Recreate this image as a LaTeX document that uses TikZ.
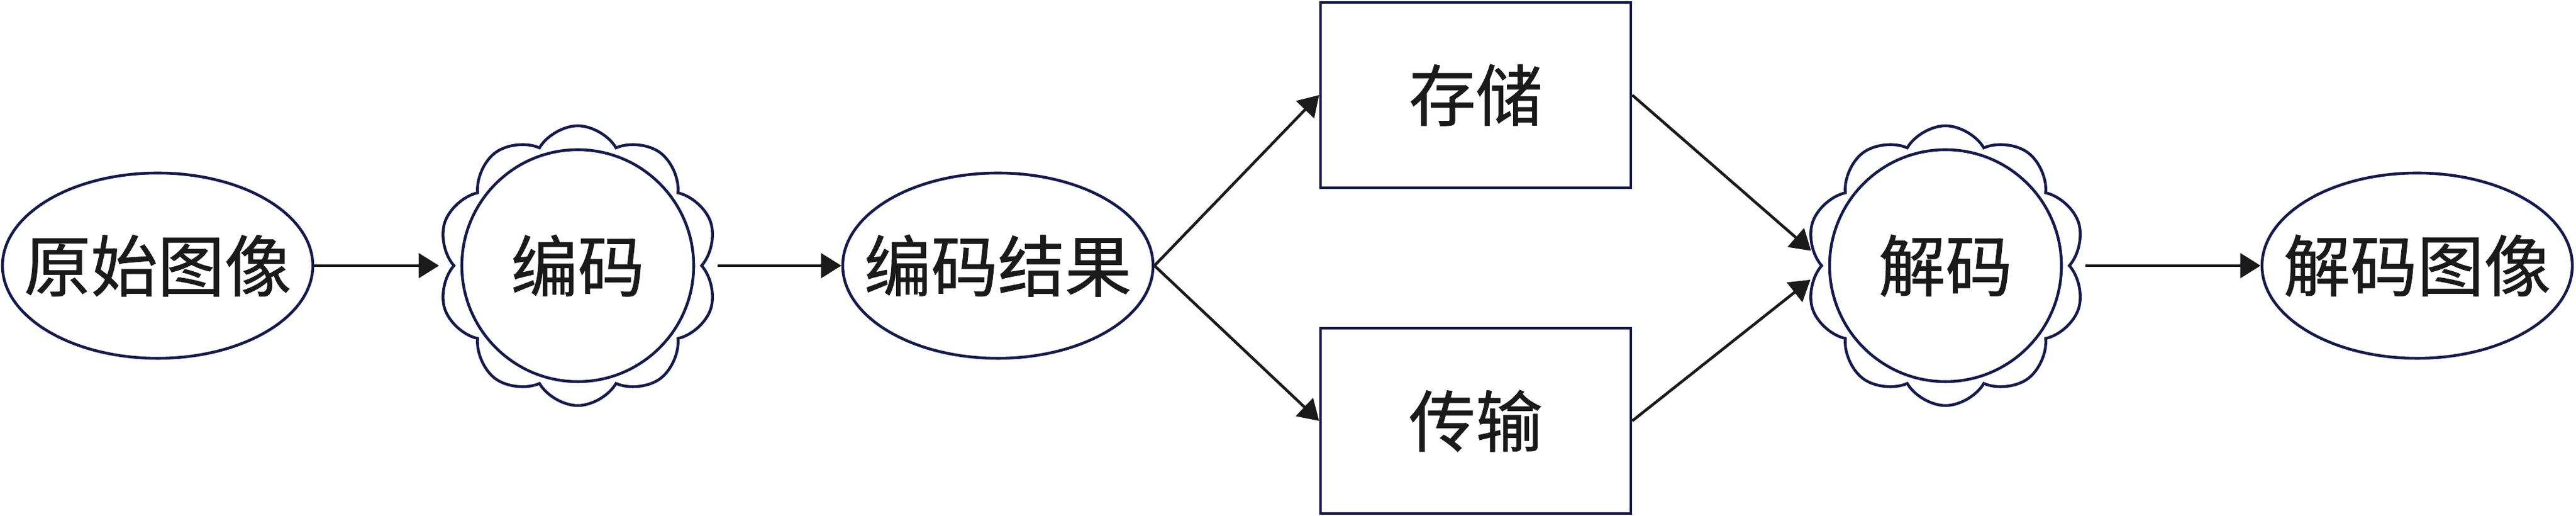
\documentclass[tikz,border=0pt]{standalone}
\usepackage{fontspec}
\setmainfont{Noto Sans CJK SC}[FakeBold=0.8]
\usetikzlibrary{shapes.geometric,shapes.symbols,arrows.meta}

\definecolor{navy}{HTML}{141A4B}
\definecolor{ink}{HTML}{1A1A1A}

\begin{document}
\begin{tikzpicture}[
 line width=1.3pt,
 font=\fontsize{31pt}{31pt}\selectfont,
    E/.style = {ellipse, draw=navy, text=ink,% image nodes
                minimum width=5.06cm, minimum height=3.02cm,
                inner xsep=-0.6cm, inner ysep=0pt},
    C/.style = {cloud, draw=navy,% puffs round the coder nodes
                cloud puffs=10, cloud puff arc=120, aspect=1,
                minimum width=4.56cm, minimum height=4.56cm,
                inner sep=0pt},
    R/.style = {circle, draw=navy, text=ink, minimum size=3.78cm,
                inner sep=0pt},
    S/.style = {rectangle, draw=navy, text=ink,
                minimum width=5.06cm, minimum height=3.02cm},
    A/.style = {draw=ink, -{Triangle[length=9.4pt,width=11.4pt]}},
                        ]
\useasboundingbox (0,0) rectangle (42,8.41);
\node[E] (orig)  at (2.57,4.08)  {原始图像};
\node[C]         at (9.42,4.08)  {};
\node[R] (enc)   at (9.42,4.08)  {编码};
\node[E] (res)   at (16.27,4.08) {编码结果};
\node[S] (store) at (24.06,6.86) {存储};
\node[S] (trans) at (24.06,1.55) {传输};
\node[C]         at (31.72,4.08) {};
\node[R] (dec)   at (31.72,4.08) {解码};
\node[E] (out)   at (39.41,4.08) {解码图像};
% connectors, stopping at the puffs
\draw[A, shorten >=0.35cm] (orig.east) -- (enc.west);
\draw[A, shorten <=0.37cm] (enc.east) -- (res.west);
\draw[A] (res.east) -- (store.west);
\draw[A] (res.east) -- (trans.west);
\draw[A, shorten >=0.37cm] (store.east) -- (dec.west);
\draw[A, shorten >=0.37cm] (trans.east) -- (dec.west);
\draw[A, shorten <=0.37cm] (dec.east) -- (out.west);
\end{tikzpicture}
\end{document}
